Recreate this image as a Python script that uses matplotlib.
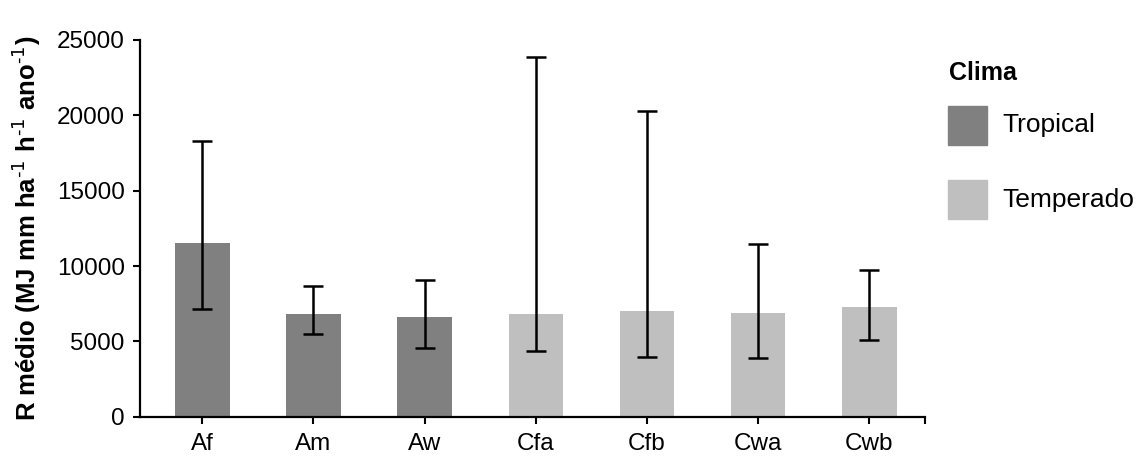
import matplotlib
matplotlib.use("Agg")
import matplotlib.pyplot as plt
import numpy as np

plt.rcParams['font.family'] = ['Liberation Sans', 'DejaVu Sans']
plt.rcParams['mathtext.default'] = 'bf'

categories = ["Af", "Am", "Aw", "Cfa", "Cfb", "Cwa", "Cwb"]
means = [11500, 6800, 6600, 6800, 7000, 6850, 7300]
err_upper = [18300, 8700, 9070, 23900, 20270, 11460, 9720]
err_lower = [7120, 5490, 4560, 4360, 3980, 3920, 5110]
groups = ["Tropical", "Tropical", "Tropical", "Temperado", "Temperado", "Temperado", "Temperado"]
yticks = [0, 5000, 10000, 15000, 20000, 25000]

colors = {"Tropical": "#808080", "Temperado": "#bfbfbf"}

fig = plt.figure(figsize=(11.38, 4.59), dpi=100)
ax = fig.add_axes([140/1138, 42.3/459, (925-140)/1138, (416.7-40)/459])

x = np.arange(len(categories))
ax.bar(x, means, width=0.49, color=[colors[g] for g in groups], zorder=2)
yerr = [np.array(means) - np.array(err_lower), np.array(err_upper) - np.array(means)]
ax.errorbar(x, means, yerr=yerr, fmt='none', ecolor='black', elinewidth=1.8,
            capsize=7, capthick=1.8, zorder=3)

ax.set_xlim(-0.56, 6.5)
ax.set_ylim(0, 25000)
ax.set_yticks(yticks)
ax.set_yticklabels([str(v) for v in yticks], fontsize=17.5)
ax.set_xticks(list(x) + [6.5])
ax.set_xticklabels(categories + [""], fontsize=17.5)
ax.tick_params(axis='both', direction='out', width=1.5, length=5, color='black')
ax.tick_params(axis='x', pad=7)
ax.tick_params(axis='y', pad=6)
for s in ['top', 'right']:
    ax.spines[s].set_visible(False)
for s in ['left', 'bottom']:
    ax.spines[s].set_linewidth(1.6)

sup = r"$^{\text{-1}}$"
ax.set_ylabel("R médio (MJ mm ha" + sup + " h" + sup + " ano" + sup + ")",
              fontsize=18.5, fontweight='bold', fontstretch='normal')
ax.yaxis.set_label_coords(-97/785, 0.5)

fig.text(949/1138, 1 - 73/459, "Clima", fontsize=18, fontweight='bold',
         fontstretch='normal', va='center', ha='left')
for label, yc in [("Tropical", 125), ("Temperado", 200)]:
    fig.patches.append(matplotlib.patches.Rectangle((948/1138, 1 - (yc + 19.5)/459), 39/1138, 39/459,
                                                    transform=fig.transFigure, color=colors[label]))
    fig.text(1002/1138, 1 - yc/459, label, fontsize=19, va='center', ha='left')

fig.savefig("out.png", dpi=100)
